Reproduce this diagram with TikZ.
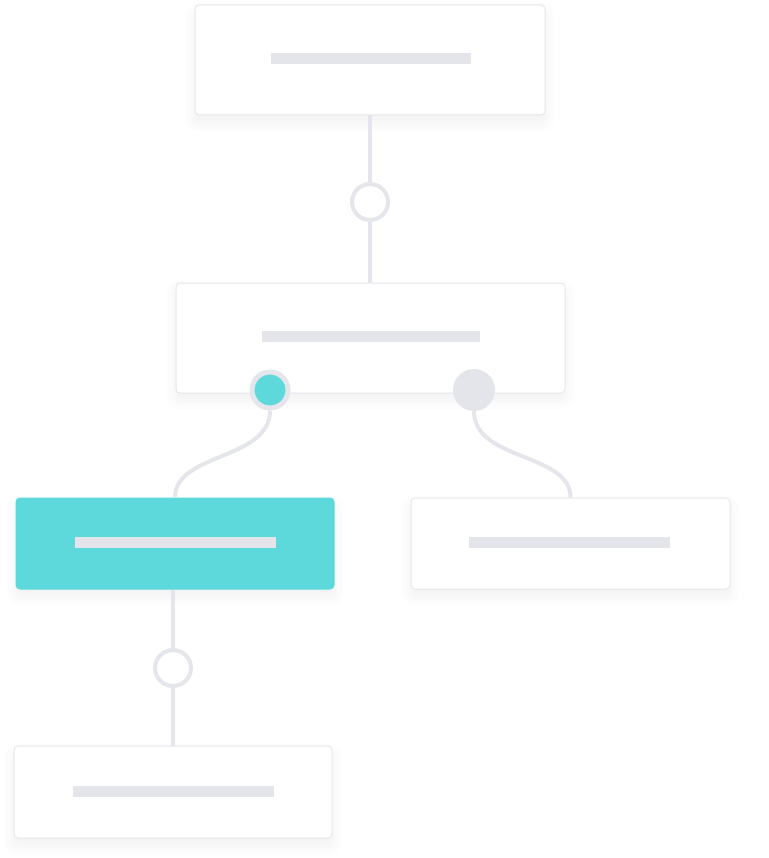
\documentclass[tikz,border=0pt]{standalone}
\usetikzlibrary{shadows.blur}

\definecolor{teal}{HTML}{5DD9DB}
\definecolor{barGray}{HTML}{E4E5EA}
\definecolor{edgeGray}{HTML}{E6E7EC}
\definecolor{lineGray}{HTML}{E5E6EB}

\tikzstyle{card} = [rectangle, rounded corners=4pt, draw=edgeGray, line width=1pt, fill=white, minimum height=110, blur shadow={shadow blur steps=10, shadow xshift=0pt, shadow yshift=-7pt, shadow opacity=6, shadow blur radius=12pt}]
\tikzstyle{bar} = [rectangle, fill=barGray, inner sep=0pt, minimum height=11]
\tikzstyle{ring} = [circle, draw=lineGray, line width=4pt, fill=white, inner sep=0pt, minimum size=36]
\tikzstyle{link} = [draw=lineGray, line width=4pt]

\begin{document}
\begin{tikzpicture}[x=1pt, y=-1pt]
      \useasboundingbox (0,0) rectangle (768,858);
      % cards
      \node[card, minimum width=350] (top) at (370,60) {};
      \node[card, minimum width=389] (mid) at (370.5,338) {};
      \node[card, minimum width=318, minimum height=91, fill=teal, draw=teal] (left) at (175,543.5) {};
      \node[card, minimum width=319, minimum height=91] (right) at (570.5,543.5) {};
      \node[card, minimum width=318, minimum height=92] (bottom) at (173,792) {};
      % bars
      \node[bar, minimum width=200] (topbar) at (371,58.5) {};
      \node[bar, minimum width=218] (midbar) at (371,336.5) {};
      \node[bar, minimum width=201] (leftbar) at (175.5,542.5) {};
      \node[bar, minimum width=201] (rightbar) at (569.5,542.5) {};
      \node[bar, minimum width=201] (bottombar) at (173.5,791.5) {};
      % connectors
      \node[ring] (c1) at (370,202) {};
      \node[ring] (c2) at (173,668) {};
      \draw[link] (top.south) -- (c1);
      \draw[link] (c1) -- (c1 |- mid.north);
      \draw[link] (c2 |- left.south) -- (c2);
      \draw[link] (c2) -- (bottom.north);
      \node[circle, fill=teal, draw=lineGray, line width=5pt, inner sep=0pt, minimum size=36] (tdot) at (270,390) {};
      \node[circle, fill=barGray, inner sep=0pt, minimum size=42] (gdot) at (474,390) {};
      \draw[link] (tdot.south) .. controls ([yshift=-50pt]tdot.south) and ([yshift=45pt]left.north) .. (left.north);
      \draw[link] (gdot.south) .. controls ([yshift=-50pt]gdot.south) and ([yshift=45pt]right.north) .. (right.north);
\end{tikzpicture}
\end{document}
